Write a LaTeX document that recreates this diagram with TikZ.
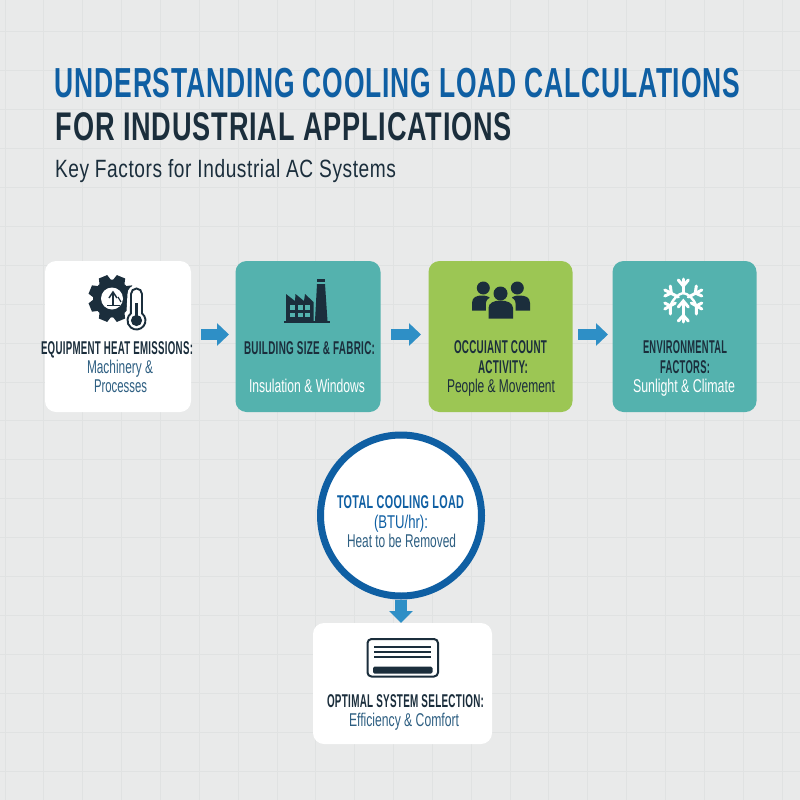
\documentclass[tikz,border=0pt]{standalone}
\usepackage{fontspec}
\usepackage{graphicx}
\setmainfont{Liberation Sans}
\newfontfamily\spaced[LetterSpace=3]{Liberation Sans}
\usetikzlibrary{arrows.meta}
\definecolor{bgc}{HTML}{E9EAEA}
\definecolor{gridc}{HTML}{E0E2E2}
\definecolor{teal}{HTML}{54B2AE}
\definecolor{leaf}{HTML}{9CC654}
\definecolor{dark}{HTML}{1B2E3C}
\definecolor{navy}{HTML}{0F5FA3}
\definecolor{steel}{HTML}{2E5F82}
\definecolor{flowc}{HTML}{2E8FC6}
\tikzset{
  card/.style={rounded corners=11pt,inner sep=0pt,outer sep=0pt,anchor=north west},
  lab/.style={inner sep=0pt,outer sep=0pt,anchor=base},
  flow/.style={draw=flowc,line width=11pt,-{Triangle[width=22pt,length=12pt,fill=flowc]}},
  ink/.style={fill=dark,draw=none}
}
% name, centre x, baseline y, width, size, colour, text
\newcommand\lbl[7]{\node[lab,text=#6] (#1) at (#2,#3) {\resizebox{#4pt}{\height}{\fontsize{#5pt}{#5pt}\selectfont #7}};}
\begin{document}
\begin{tikzpicture}[x=1pt,y=-1pt]
\useasboundingbox (0,0) rectangle (800,800);
\fill[bgc] (0,0) rectangle (800,800);
\foreach \k in {0,...,20} {
  \draw[gridc,line width=0.9pt] ({5+38.85*\k},0) -- ({5+38.85*\k},800);
  \draw[gridc,line width=0.9pt] (0,{-7+38.9*\k}) -- (800,{-7+38.9*\k});
}
% cards
\node[card,fill=white,minimum width=146pt,minimum height=151pt] (b1) at (45,261) {};
\node[card,fill=teal,minimum width=145pt,minimum height=151pt] (b2) at (235.5,261) {};
\node[card,fill=leaf,minimum width=144pt,minimum height=151pt] (b3) at (428.5,261) {};
\node[card,fill=teal,minimum width=144pt,minimum height=151pt] (b4) at (612.5,261) {};
\node[card,fill=white,minimum width=179pt,minimum height=121pt] (b5) at (313,623) {};
% arrows
\draw[flow,shorten <=10pt,shorten >=6.5pt] ([yshift=2pt]b1.east) -- ([yshift=2pt]b2.west);
\draw[flow,shorten <=10.5pt,shorten >=7.5pt] ([yshift=2pt]b2.east) -- ([yshift=2pt]b3.west);
\draw[flow,shorten <=5.5pt,shorten >=4.5pt] ([yshift=2pt]b3.east) -- ([yshift=2pt]b4.west);
\node[circle,fill=white,draw=navy,line width=7pt,minimum size=161pt,inner sep=0pt,outer sep=3.5pt] (c) at (401,515.5) {};
\draw[draw=flowc,line width=12pt,-{Triangle[width=23pt,length=12pt,fill=flowc]}] (c.south) -- (c.south|-b5.north);

% titles
\lbl{t1}{397.5}{97}{685}{42}{navy}{\bfseries\spaced\bfseries UNDERSTANDING COOLING LOAD CALCULATIONS}
\lbl{t2}{284}{140}{456}{40}{dark}{\spaced\bfseries FOR INDUSTRIAL APPLICATIONS}
\lbl{t3}{225.5}{177}{341}{25}{dark}{\spaced Key Factors for Industrial AC Systems}
% card texts
\lbl{a1}{117}{354}{152}{18.5}{dark}{\spaced\bfseries EQUIPMENT HEAT EMISSIONS:}
\lbl{a2}{120}{373}{66}{18.5}{steel}{Machinery \&}
\lbl{a3}{120.5}{392}{53}{18.5}{steel}{Processes}
\lbl{d1}{309.5}{354}{131}{18.5}{dark}{\spaced\bfseries BUILDING SIZE \& FABRIC:}
\lbl{d2}{307}{392}{116}{18.5}{white}{Insulation \& Windows}
\lbl{e1}{500.5}{353}{93}{18.5}{dark}{\spaced\bfseries OCCUIANT COUNT}
\lbl{e2}{503}{373}{50}{18.5}{dark}{\spaced\bfseries ACTIVITY:}
\lbl{e3}{501}{392}{108}{18.5}{dark}{People \& Movement}
\lbl{f1}{685}{353}{84}{18.5}{dark}{\spaced\bfseries ENVIRONMENTAL}
\lbl{f2}{685}{373}{50}{18.5}{dark}{\spaced\bfseries FACTORS:}
\lbl{f3}{684}{392}{102}{18.5}{white}{Sunlight \& Climate}
\lbl{g1}{400.5}{508}{127}{18.5}{navy}{\spaced\bfseries TOTAL COOLING LOAD}
\lbl{g2}{401}{528}{54}{18.5}{navy}{(BTU/hr):}
\lbl{g3}{401.5}{547}{109}{18.5}{steel}{Heat to be Removed}
\lbl{h1}{405.5}{707}{157}{18.5}{dark}{\spaced\bfseries OPTIMAL SYSTEM SELECTION:}
\lbl{h2}{404}{726}{110}{18.5}{steel}{Efficiency \& Comfort}

% gear + thermometer icon
\foreach \a in {0,45,...,315}
  \fill[ink,rotate around={\a+22.5:(112,298.5)}] (107.5,275) -- (116.5,275) -- (119,284) -- (105,284) -- cycle;
\fill[ink] (112,298.5) circle[radius=19pt];
\fill[white] (112,298.5) circle[radius=11pt];
\draw[dark,line width=1.6pt] (113,306) -- (113,293);
\draw[dark,line width=1.5pt] (109,298) -- (113,292) -- (117,298);
\draw[dark,line width=1.5pt] (107,305.5) -- (120,305.5);
\draw[dark,line width=1.2pt] (118,297) -- (121,302);
% thermometer
\fill[white] (127.5,294) arc[start angle=180,end angle=0,radius=9pt] -- (145.5,312) -- (147,320.5) arc[start angle=0,end angle=-180,radius=10.5pt] -- cycle;
\draw[dark,line width=1.9pt] (131,294) arc[start angle=180,end angle=0,radius=5.5pt] -- (142,313.4) arc[start angle=52,end angle=-232,radius=9pt] -- cycle;
\fill[ink] (134.8,303) rectangle (138.2,316);
\fill[ink] (136.5,320.5) circle[radius=5.6pt];

% factory icon
\fill[ink] (284,320.5) rectangle (330,323);
\fill[ink] (286,321) -- (286,294) -- (295,301) -- (295.5,294) -- (304,301) -- (305,294) -- (313.5,302) -- (313.5,321) -- cycle;
\fill[ink] (317,284) -- (325,284) -- (327.5,321) -- (315,321) -- cycle;
\fill[ink] (317,279) rectangle (325,282);
\foreach \x in {290,297.5,305} \foreach \y in {305,312.5}
  \fill[teal] (\x,\y) rectangle ({\x+5},{\y+4.5});

% people icon
\fill[ink] (483.3,288) circle[radius=6.5pt];
\fill[ink] (517.3,288) circle[radius=6.5pt];
\fill[ink] (472,310.5) -- (472,303) .. controls (472,297) and (477,295.5) .. (482,295.5) .. controls (487,295.5) and (492,297) .. (492,303) -- (492,310.5) -- cycle;
\fill[ink] (510,310.5) -- (510,303) .. controls (510,297) and (514,295.5) .. (519,295.5) .. controls (525,295.5) and (530,297) .. (530,303) -- (530,310.5) -- cycle;
\fill[leaf] (500.5,293.5) circle[radius=9pt];
\fill[leaf,rounded corners=6pt] (486,322) -- (486,297.5) -- (515.5,297.5) -- (515.5,322) -- cycle;
\fill[ink] (500.5,293.5) circle[radius=7pt];
\fill[ink] (488.5,318.7) -- (488.5,308) .. controls (488.5,303) and (494,300.5) .. (500.5,300.5) .. controls (507,300.5) and (513,303) .. (513,308) -- (513,318.7) -- cycle;

% snowflake icon
\begin{scope}[shift={(683.3,300)},line cap=round]
\draw[white,line width=3pt] (0,-21) -- (0,-7);
\draw[white,line width=3pt] (-5,-20) -- (0,-14) -- (5,-20);
\draw[white,line width=3pt] (0,22) -- (0,2);
\draw[white,line width=3pt] (-5,21) -- (0,15.5) -- (5,21);
\draw[white,line width=3pt] (-5,7) -- (0,1) -- (5,7);
\draw[white,line width=2.4pt] (-13,6) .. controls (-10,-2) and (-5,-6) .. (0,-7) .. controls (5,-6) and (10,-2) .. (13,6);
\foreach \s in {-1,1} {
  \draw[white,line width=3pt] ({\s*18.5},-10) -- ({\s*5},-3);
  \draw[white,line width=3pt] ({\s*18.5},-4) -- ({\s*12},-7) -- ({\s*13},-14);
  \draw[white,line width=3pt] ({\s*18.5},9) -- ({\s*8},3);
  \draw[white,line width=3pt] ({\s*18.5},3) -- ({\s*13},6) -- ({\s*13},14);
}
\end{scope}

% air conditioner icon
\draw[dark,line width=2pt,rounded corners=4pt] (367.5,639) rectangle (438,676.5);
\foreach \y in {647,652,657} \draw[dark,line width=1.6pt] (374,\y) -- (431,\y);
\fill[ink,rounded corners=1.5pt] (373,666.5) rectangle (432.5,673.5);
\end{tikzpicture}
\end{document}
